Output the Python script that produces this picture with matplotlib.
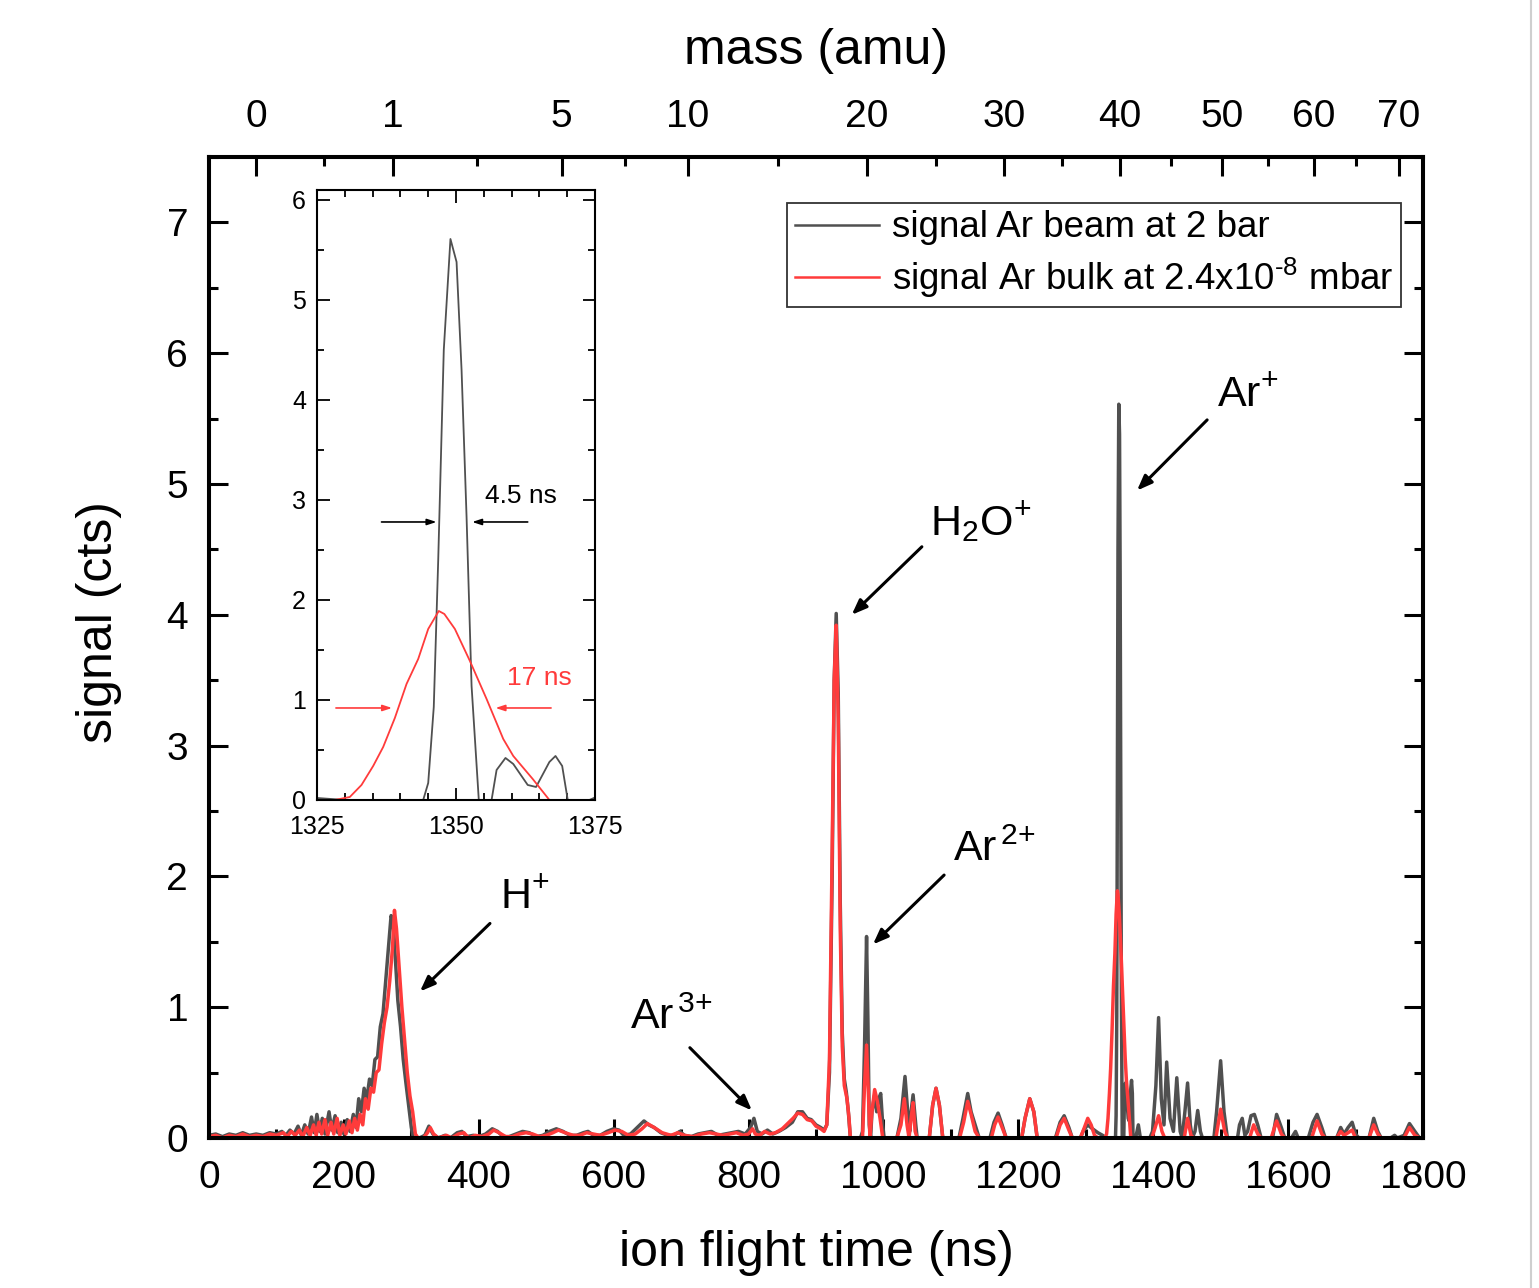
import numpy as np
import matplotlib
matplotlib.use("Agg")
import matplotlib.pyplot as plt
from matplotlib.ticker import MultipleLocator, FixedLocator

plt.rcParams['font.family'] = ['Liberation Sans', 'DejaVu Sans']
plt.rcParams['mathtext.fontset'] = 'custom'
plt.rcParams['mathtext.rm'] = 'Liberation Sans'
plt.rcParams['mathtext.it'] = 'Liberation Sans:italic'
plt.rcParams['mathtext.bf'] = 'Liberation Sans:bold'

# ---- data (time in ns, signal in cts) ----
beam_t = [0, 10, 20, 30, 40, 50, 60, 70, 80, 90, 100, 108, 114, 120, 126, 132, 137, 142, 147, 152,
          156, 160, 164, 168, 172, 178, 182, 187, 191, 196, 200, 205, 209, 214, 218, 222, 226, 230,
          234, 238, 242, 246, 250, 254, 258, 262, 266, 270, 273, 276, 280, 284, 288, 292, 296, 300,
          303, 312, 320, 326, 332, 340, 350, 358, 368, 375, 382, 392, 400, 410, 420, 428, 436, 445,
          455, 465, 475, 485, 495, 505, 515, 525, 535, 545, 555, 562, 570, 580, 590, 600, 608, 615,
          625, 635, 645, 652, 660, 670, 680, 690, 698, 705, 715, 725, 735, 745, 755, 765, 775, 785,
          795, 803, 808, 813, 820, 828, 836, 845, 855, 865, 873, 880, 887, 893, 900, 907, 912, 916,
          920, 924, 927, 930, 933, 936, 939, 942, 945, 948, 951, 966, 969, 972, 975, 977, 979, 981,
          983, 987, 990, 993, 996, 999, 1001, 1020, 1026, 1032, 1036, 1039, 1041, 1044, 1048, 1050,
          1068, 1073, 1078, 1083, 1088, 1112, 1118, 1125, 1130, 1136, 1142, 1158, 1164, 1170, 1176,
          1182, 1205, 1210, 1217, 1223, 1228, 1255, 1262, 1268, 1275, 1280, 1292, 1297, 1303, 1310,
          1318, 1325, 1330, 1344.1, 1345.0, 1346.0, 1346.8, 1347.8, 1349.0, 1350.1, 1351.0, 1351.9,
          1352.8, 1354.1, 1356.4, 1357.3, 1358.9, 1360.3, 1362.9, 1364.4, 1366.8, 1367.9, 1369.1,
          1370.1, 1374, 1378, 1381, 1395, 1399, 1404, 1408, 1412, 1416, 1420, 1425, 1430, 1435, 1440,
          1443, 1447, 1451, 1455, 1458, 1462, 1466, 1470, 1473, 1490, 1494, 1500, 1505, 1510, 1525,
          1528, 1532, 1536, 1540, 1545, 1550, 1555, 1560, 1577, 1583, 1590, 1595, 1605, 1611, 1615,
          1630, 1637, 1643, 1650, 1655, 1672, 1678, 1683, 1689, 1695, 1700, 1705, 1720, 1727, 1733,
          1738, 1752, 1758, 1762, 1772, 1780, 1788, 1795]
beam_y = [0.02, 0.03, 0.01, 0.03, 0.02, 0.04, 0.02, 0.03, 0.02, 0.04, 0.03, 0.05, 0.02, 0.06, 0.03,
          0.09, 0.02, 0.10, 0.03, 0.16, 0.04, 0.18, 0.05, 0.15, 0.03, 0.20, 0.06, 0.17, 0.04, 0.12,
          0.03, 0.14, 0.05, 0.18, 0.08, 0.30, 0.20, 0.38, 0.30, 0.45, 0.40, 0.60, 0.62, 0.85, 0.95,
          1.20, 1.45, 1.70, 1.65, 1.40, 1.05, 0.85, 0.60, 0.42, 0.25, 0.08, 0.00, 0.00, 0.02, 0.09,
          0.03, 0.00, 0.02, 0.00, 0.04, 0.05, 0.01, 0.02, 0.01, 0.03, 0.07, 0.05, 0.01, 0.01, 0.03,
          0.05, 0.04, 0.01, 0.02, 0.05, 0.07, 0.05, 0.02, 0.02, 0.04, 0.05, 0.02, 0.02, 0.05, 0.07,
          0.06, 0.02, 0.03, 0.08, 0.13, 0.10, 0.08, 0.04, 0.02, 0.02, 0.05, 0.02, 0.01, 0.03, 0.04,
          0.05, 0.02, 0.03, 0.04, 0.05, 0.03, 0.08, 0.15, 0.05, 0.03, 0.06, 0.03, 0.05, 0.08, 0.12,
          0.20, 0.20, 0.15, 0.14, 0.10, 0.08, 0.06, 0.10, 0.50, 2.00, 3.50, 4.01, 3.40, 1.80, 0.80,
          0.45, 0.35, 0.20, 0.00, 0.00, 0.05, 0.70, 1.54, 0.90, 0.10, 0.00, 0.20, 0.33, 0.20, 0.30,
          0.34, 0.10, 0.00, 0.00, 0.15, 0.47, 0.20, 0.05, 0.20, 0.33, 0.10, 0.00, 0.00, 0.25, 0.38,
          0.25, 0.00, 0.00, 0.15, 0.34, 0.20, 0.10, 0.00, 0.00, 0.12, 0.19, 0.10, 0.00, 0.00, 0.15,
          0.30, 0.20, 0.00, 0.00, 0.12, 0.17, 0.08, 0.00, 0.00, 0.06, 0.10, 0.07, 0.04, 0.02, 0.00,
          0.00, 0.17, 0.93, 2.40, 4.50, 5.61, 5.38, 4.30, 2.83, 1.14, 0.00, 0.00, 0.30, 0.42, 0.36,
          0.15, 0.13, 0.38, 0.44, 0.34, 0.00, 0.00, 0.10, 0.00, 0.00, 0.05, 0.40, 0.92, 0.30, 0.10,
          0.58, 0.15, 0.05, 0.46, 0.05, 0.00, 0.20, 0.42, 0.10, 0.00, 0.05, 0.21, 0.05, 0.00, 0.00,
          0.20, 0.59, 0.20, 0.00, 0.00, 0.10, 0.15, 0.02, 0.05, 0.17, 0.18, 0.10, 0.00, 0.00, 0.18,
          0.08, 0.00, 0.00, 0.05, 0.00, 0.00, 0.12, 0.18, 0.08, 0.00, 0.00, 0.08, 0.03, 0.08, 0.12,
          0.03, 0.00, 0.00, 0.15, 0.05, 0.00, 0.00, 0.02, 0.00, 0.02, 0.11, 0.05, 0.00]

bulk_t = [0, 10, 20, 30, 40, 50, 60, 70, 80, 90, 100, 110, 116, 122, 128, 134, 139, 145, 150, 155,
          159, 163, 167, 172, 176, 181, 185, 190, 194, 199, 203, 208, 212, 216, 220, 224, 228, 232,
          236, 240, 244, 248, 252, 256, 260, 264, 268, 272, 275, 278, 282, 286, 290, 294, 298, 302,
          306, 310, 318, 324, 328, 333, 340, 352, 360, 370, 378, 385, 395, 405, 415, 422, 430, 440,
          450, 460, 470, 480, 490, 500, 510, 518, 528, 540, 550, 560, 570, 580, 592, 602, 612, 622,
          632, 642, 650, 660, 672, 685, 695, 705, 718, 730, 742, 752, 762, 772, 782, 792, 800, 806,
          810, 816, 824, 832, 840, 850, 858, 866, 873, 880, 887, 894, 900, 907, 912, 916, 920, 924,
          927, 930, 933, 936, 939, 942, 946, 949, 951, 969, 972, 975, 978, 980, 983, 987, 991, 995,
          999, 1020, 1026, 1031, 1035, 1038, 1041, 1044, 1047, 1050, 1068, 1073, 1078, 1083, 1088,
          1113, 1119, 1125, 1130, 1136, 1142, 1160, 1165, 1170, 1176, 1182, 1205, 1210, 1217, 1223,
          1228, 1256, 1262, 1268, 1275, 1280, 1292, 1298, 1303, 1308, 1313, 1318, 1328.2, 1330.9,
          1333.0, 1335.1, 1336.9, 1339.0, 1341.1, 1343.2, 1345.0, 1346.9, 1347.9, 1349.8, 1352.5,
          1355.5, 1358.5, 1360.3, 1363.8, 1366.8, 1398, 1403, 1408, 1413, 1417, 1446, 1451, 1456,
          1460, 1493, 1500, 1506, 1510, 1543, 1549, 1555, 1560, 1575, 1583, 1590, 1595, 1635, 1643,
          1650, 1655, 1672, 1678, 1683, 1689, 1695, 1700, 1720, 1727, 1733, 1738, 1772, 1780, 1788,
          1795]
bulk_y = [0.01, 0.02, 0.00, 0.02, 0.01, 0.03, 0.01, 0.02, 0.01, 0.03, 0.02, 0.04, 0.01, 0.05, 0.02,
          0.06, 0.01, 0.08, 0.02, 0.10, 0.02, 0.12, 0.03, 0.14, 0.02, 0.12, 0.03, 0.15, 0.02, 0.10,
          0.03, 0.13, 0.04, 0.15, 0.06, 0.18, 0.10, 0.30, 0.22, 0.38, 0.35, 0.50, 0.52, 0.72, 0.88,
          1.00, 1.20, 1.45, 1.74, 1.60, 1.30, 1.00, 0.75, 0.50, 0.32, 0.20, 0.03, 0.00, 0.00, 0.04,
          0.08, 0.03, 0.00, 0.02, 0.00, 0.03, 0.04, 0.00, 0.02, 0.01, 0.03, 0.06, 0.04, 0.01, 0.01,
          0.03, 0.04, 0.03, 0.01, 0.02, 0.04, 0.06, 0.04, 0.02, 0.02, 0.04, 0.03, 0.02, 0.04, 0.06,
          0.05, 0.02, 0.03, 0.07, 0.11, 0.08, 0.04, 0.02, 0.04, 0.02, 0.01, 0.03, 0.04, 0.03, 0.02,
          0.03, 0.04, 0.02, 0.03, 0.07, 0.03, 0.02, 0.05, 0.03, 0.04, 0.07, 0.11, 0.15, 0.19, 0.18,
          0.14, 0.13, 0.09, 0.07, 0.05, 0.10, 0.60, 2.20, 3.50, 3.92, 3.20, 1.60, 0.70, 0.40, 0.30,
          0.15, 0.00, 0.00, 0.40, 0.71, 0.30, 0.00, 0.20, 0.37, 0.28, 0.15, 0.00, 0.00, 0.10, 0.30,
          0.10, 0.00, 0.15, 0.27, 0.05, 0.00, 0.00, 0.25, 0.38, 0.25, 0.00, 0.00, 0.12, 0.28, 0.18,
          0.05, 0.00, 0.00, 0.10, 0.16, 0.08, 0.00, 0.00, 0.15, 0.30, 0.20, 0.00, 0.00, 0.10, 0.15,
          0.06, 0.00, 0.00, 0.08, 0.15, 0.10, 0.02, 0.00, 0.00, 0.03, 0.15, 0.34, 0.53, 0.82, 1.16,
          1.41, 1.71, 1.89, 1.86, 1.71, 1.39, 1.01, 0.61, 0.44, 0.21, 0.00, 0.00, 0.08, 0.17, 0.05,
          0.00, 0.00, 0.15, 0.02, 0.00, 0.00, 0.22, 0.05, 0.00, 0.00, 0.10, 0.03, 0.00, 0.00, 0.13,
          0.03, 0.00, 0.00, 0.13, 0.03, 0.00, 0.00, 0.05, 0.02, 0.04, 0.06, 0.00, 0.00, 0.10, 0.03,
          0.00, 0.00, 0.08, 0.02, 0.00]

mass_ticks = [0, 1, 5, 10, 20, 30, 40, 50, 60, 70]
# time-of-flight calibration t = t0 + k*sqrt(m)
t0, k_cal = 70.0, 202.5

legend_labels = ['signal Ar beam at 2 bar', 'signal Ar bulk at 2.4x10$^{\\text{-8}}$ mbar']

peak_labels = ['H$^{+}$', 'Ar$^{\\,3{+}}$', 'H$_2$O$^{+}$', 'Ar$^{\\,2{+}}$', 'Ar$^{+}$']
label_xy = [(431, 1.84), (624, 0.92), (1069, 4.71), (1103, 2.2), (1494, 5.68)]
arrow_from = [(416.6, 1.64), (713, 0.69), (1057, 4.52), (1090, 2.01), (1480, 5.49)]
arrow_to = [(312.8, 1.12), (805, 0.21), (953, 4.0), (984.5, 1.48), (1376, 4.95)]

gray = '#505050'
red = '#ff3b3b'

fig = plt.figure(figsize=(15.39, 12.88), dpi=100)
ax = fig.add_axes([0.1358, 0.1165, 0.7888, 0.7616])

ax.plot(beam_t, beam_y, color=gray, lw=2.5, label=legend_labels[0], zorder=2)
ax.plot(bulk_t, bulk_y, color=red, lw=2.5, label=legend_labels[1], zorder=3)

ax.set_xlim(0, 1800)
ax.set_ylim(0, 7.5)
ax.xaxis.set_major_locator(MultipleLocator(200))
ax.xaxis.set_minor_locator(MultipleLocator(100))
ax.yaxis.set_major_locator(MultipleLocator(1))
ax.yaxis.set_minor_locator(MultipleLocator(0.5))
ax.tick_params(which='both', direction='in', top=False, right=True, width=2.2, labelsize=28)
ax.tick_params(axis='x', pad=16)
ax.tick_params(axis='y', pad=15)
ax.tick_params(which='major', length=13.5)
ax.tick_params(which='minor', length=6.5)
for s in ax.spines.values():
    s.set_linewidth(2.9)

ax.set_xlabel('ion flight time (ns)', fontsize=36)
ax.xaxis.set_label_coords(0.5, -0.094)
ax.set_ylabel('signal (cts)', fontsize=36)
ax.yaxis.set_label_coords(-0.072, 0.526)

# top mass axis
ax_top = ax.twiny()
ax_top.set_xlim(ax.get_xlim())
mass_t = [t0 + k_cal * np.sqrt(m) for m in mass_ticks]
ax_top.xaxis.set_major_locator(FixedLocator(mass_t))
ax_top.set_xticklabels([str(m) for m in mass_ticks])
mid_t = [(a + b) / 2 for a, b in zip(mass_t[:-1], mass_t[1:])]
ax_top.xaxis.set_minor_locator(FixedLocator(mid_t))
ax_top.tick_params(which='both', direction='in', width=2.2, labelsize=28, pad=16)
ax_top.tick_params(which='major', length=13.5)
ax_top.tick_params(which='minor', length=6.5)
for s in ax_top.spines.values():
    s.set_linewidth(2.9)
ax_top.set_xlabel('mass (amu)', fontsize=36)
ax_top.xaxis.set_label_coords(0.5, 1.095)

leg = ax.legend(loc='upper right', bbox_to_anchor=(0.9819, 0.953), borderaxespad=0,
                fontsize=26.5, frameon=True, fancybox=False, handlelength=2.3,
                handletextpad=0.35, borderpad=0.2, labelspacing=0.27)
leg.get_frame().set_edgecolor('black')
leg.get_frame().set_linewidth(1.3)
for h in leg.get_lines():
    h.set_linewidth(1.8)

for lab, xy, a0, a1 in zip(peak_labels, label_xy, arrow_from, arrow_to):
    ax.text(xy[0], xy[1], lab, fontsize=31, ha='left', va='center')
    ax.annotate('', xy=a1, xytext=a0,
                arrowprops=dict(arrowstyle='-|>,head_length=0.9,head_width=0.35',
                                lw=2.2, color='black', shrinkA=0, shrinkB=0))

# inset zoom on Ar+ peak
axin = fig.add_axes([0.206, 0.3789, 0.1806, 0.4736])
axin.plot(beam_t, beam_y, color=gray, lw=1.3)
axin.plot(bulk_t, bulk_y, color=red, lw=1.3)
axin.set_xlim(1325, 1375)
axin.set_ylim(0, 6.1)
axin.set_xticks([1325, 1350, 1375])
axin.xaxis.set_minor_locator(MultipleLocator(5))
axin.yaxis.set_major_locator(MultipleLocator(1))
axin.yaxis.set_minor_locator(MultipleLocator(0.5))
axin.tick_params(which='both', direction='in', top=True, right=True, width=1.3, labelsize=18)
axin.tick_params(which='major', length=9)
axin.tick_params(which='minor', length=5)
axin.tick_params(axis='x', pad=11)
axin.tick_params(axis='y', pad=8)
for s in axin.spines.values():
    s.set_linewidth(1.5)

axin.text(1361.6, 3.04, '4.5 ns', fontsize=19, ha='center', va='center', color='black')
axin.text(1365, 1.22, '17 ns', fontsize=19, ha='center', va='center', color=red)
inset_arrows = [((1336.6, 2.78), (1346.5, 2.78), 'black'),
                ((1362.9, 2.78), (1352.9, 2.78), 'black'),
                ((1328.4, 0.92), (1338.5, 0.92), red),
                ((1367.1, 0.92), (1357.1, 0.92), red)]
for a0, a1, c in inset_arrows:
    axin.annotate('', xy=a1, xytext=a0,
                  arrowprops=dict(arrowstyle='-|>,head_length=0.55,head_width=0.18',
                                  lw=1.2, color=c, shrinkA=0, shrinkB=0))

# light border strip at the right edge of the original screenshot
fig.add_artist(plt.Line2D([1531 / 1539, 1531 / 1539], [0, 1], color='#cfcfcf', lw=1.5))

fig.savefig('out.png', dpi=100)
